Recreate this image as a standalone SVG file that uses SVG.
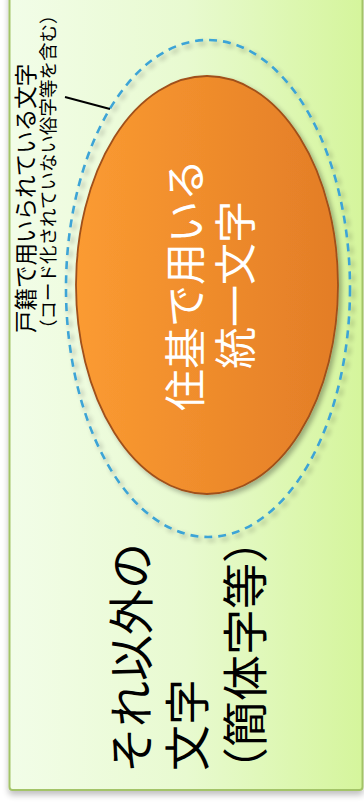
<svg xmlns="http://www.w3.org/2000/svg" width="364" height="805" viewBox="0 0 364 805">
<defs>
  <linearGradient id="bg" x1="0" y1="0" x2="1" y2="0">
    <stop offset="0" stop-color="#f2fde8"/>
    <stop offset="0.5" stop-color="#e8fad0"/>
    <stop offset="1" stop-color="#d5f59c"/>
  </linearGradient>
  <linearGradient id="org" x1="0" y1="0" x2="1" y2="0">
    <stop offset="0" stop-color="#fb9b31"/>
    <stop offset="1" stop-color="#e37d27"/>
  </linearGradient>
  <filter id="boxsh" x="-10%" y="-10%" width="120%" height="120%">
    <feGaussianBlur in="SourceAlpha" stdDeviation="3"/>
    <feOffset dx="0" dy="4"/>
    <feComponentTransfer><feFuncA type="linear" slope="0.25"/></feComponentTransfer>
    <feMerge><feMergeNode/><feMergeNode in="SourceGraphic"/></feMerge>
  </filter>
  <filter id="sh" x="-20%" y="-20%" width="140%" height="140%">
    <feGaussianBlur in="SourceAlpha" stdDeviation="2.5"/>
    <feOffset dx="3" dy="3"/>
    <feComponentTransfer><feFuncA type="linear" slope="0.3"/></feComponentTransfer>
    <feMerge><feMergeNode/><feMergeNode in="SourceGraphic"/></feMerge>
  </filter>
</defs>
<style>
  .t{font-family:"Noto Sans CJK JP","Noto Sans CJK SC",sans-serif;}
  .big{font-size:46px;fill:#000;}
  .in{font-size:42px;fill:#fff;text-anchor:middle;}
</style>
<g id="background">
  <rect x="9.5" y="-10" width="353" height="800" rx="3" fill="url(#bg)" stroke="#a3c468" stroke-width="2" filter="url(#boxsh)"/>
</g>
<g id="outer-set">
  <ellipse cx="208" cy="288.5" rx="142" ry="248.5" fill="none" stroke="#3ea4d6" stroke-width="2.6" stroke-dasharray="8 6" filter="url(#sh)"/>
</g>
<g id="inner-set">
  <ellipse cx="207" cy="285" rx="131" ry="209" fill="url(#org)" stroke="#a0501a" stroke-width="1.8" filter="url(#sh)"/>
  <text class="t in" transform="translate(201,285) rotate(-90)">住基で用いる</text>
  <text class="t in" transform="translate(251,285) rotate(-90)">統一文字</text>
</g>
<g id="label-koseki">
  <text class="t" font-size="22.5" fill="#000" transform="translate(33.5,333) rotate(-90)">戸籍で用いられている文字</text>
  <text class="t" font-size="18.5" fill="#000" transform="translate(55,338) rotate(-90)">（コード化されていない俗字等を含む）</text>
</g>
<g id="connectors">
  <line x1="65" y1="97" x2="110" y2="109" stroke="#000" stroke-width="2"/>
</g>
<g id="label-other">
  <text class="t big" transform="translate(147.5,773) rotate(-90)">それ以外の</text>
  <text class="t big" transform="translate(204,771) rotate(-90)">文字</text>
  <text class="t big" transform="translate(261.5,793) rotate(-90)">（簡体字等）</text>
</g>
</svg>
